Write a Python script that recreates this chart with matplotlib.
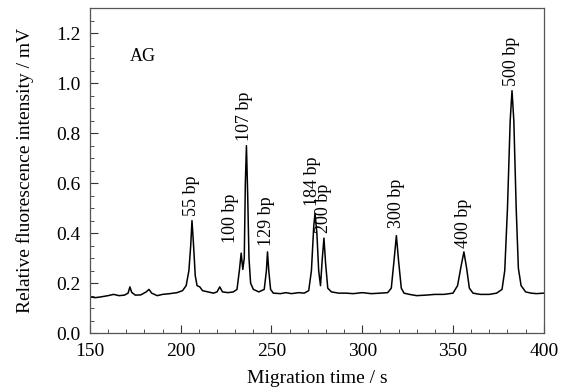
import matplotlib
matplotlib.use("Agg")
import matplotlib.pyplot as plt
from matplotlib.ticker import MultipleLocator

plt.rcParams['font.family'] = ['Liberation Serif', 'DejaVu Serif']

# electropherogram trace (time in s, intensity in mV)
time = [150, 153, 156, 160, 163, 166, 169, 171, 172, 173, 175, 178, 181, 182.5, 184,
        187, 190, 194, 198, 201, 203, 204.5, 205.5, 206.2, 207, 208, 209, 210.5, 212,
        215, 218, 220, 221.5, 223, 226, 229, 231, 232.3, 233.3, 234.2, 235, 235.6,
        236.2, 236.9, 237.6, 238.5, 240, 243, 246, 247.2, 247.8, 248.5, 249.5, 251,
        255, 258, 261, 265, 268, 270.5, 272, 273.3, 274, 275, 276, 277, 278, 278.9,
        279.8, 281, 283, 287, 291, 295, 300, 305, 310, 314, 316, 317.5, 318.8, 320,
        321.5, 323, 326, 330, 335, 340, 345, 350, 352.5, 354.5, 356, 357.5, 359, 361,
        365, 370, 374, 377, 378.5, 380, 381.5, 382.5, 383.5, 384.8, 386, 387.5, 390,
        393, 396, 400]
signal = [0.145, 0.142, 0.145, 0.150, 0.155, 0.150, 0.152, 0.160, 0.185, 0.163, 0.152,
          0.153, 0.165, 0.175, 0.160, 0.150, 0.155, 0.158, 0.162, 0.170, 0.190, 0.250,
          0.350, 0.450, 0.360, 0.230, 0.190, 0.185, 0.170, 0.165, 0.160, 0.165, 0.185,
          0.165, 0.162, 0.165, 0.175, 0.250, 0.320, 0.255, 0.300, 0.600, 0.750, 0.550,
          0.300, 0.200, 0.175, 0.165, 0.175, 0.250, 0.325, 0.250, 0.175, 0.160, 0.158,
          0.162, 0.158, 0.162, 0.160, 0.170, 0.250, 0.430, 0.480, 0.400, 0.250, 0.190,
          0.300, 0.380, 0.280, 0.180, 0.165, 0.160, 0.160, 0.158, 0.162, 0.158, 0.160,
          0.162, 0.180, 0.290, 0.390, 0.290, 0.180, 0.160, 0.155, 0.150, 0.152, 0.155,
          0.155, 0.160, 0.190, 0.270, 0.325, 0.260, 0.180, 0.160, 0.155, 0.155, 0.160,
          0.175, 0.250, 0.500, 0.850, 0.970, 0.850, 0.500, 0.260, 0.190, 0.165, 0.160,
          0.158, 0.160]

# fragment labels and where they sit
labels = ['55 bp', '100 bp', '107 bp', '129 bp', '184 bp', '200 bp',
          '300 bp', '400 bp', '500 bp']
label_t = [206, 227.6, 235.2, 247.5, 272.8, 278.4, 318.6, 355.7, 382.4]
label_y = [0.47, 0.36, 0.77, 0.35, 0.51, 0.40, 0.42, 0.34, 0.99]

fig = plt.figure(figsize=(5.73, 3.91), dpi=100)
ax = fig.add_axes([0.157, 0.148, 0.792, 0.831])

ax.plot(time, signal, color='black', lw=1.1)

for txt, t, y in zip(labels, label_t, label_y):
    ax.text(t, y, txt, rotation=90, ha='center', va='bottom', fontsize=13)

ax.text(172, 1.105, 'AG', ha='left', va='center', fontsize=13)

ax.set_xlim(150, 400)
ax.set_ylim(0, 1.3)
ax.xaxis.set_major_locator(MultipleLocator(50))
ax.xaxis.set_minor_locator(MultipleLocator(10))
ax.yaxis.set_major_locator(MultipleLocator(0.2))
ax.yaxis.set_minor_locator(MultipleLocator(0.05))
ax.yaxis.set_major_formatter(plt.FormatStrFormatter('%.1f'))

ax.tick_params(which='both', direction='in', top=False, right=False, labelsize=14,
               color='#333333', pad=7)
ax.tick_params(which='major', length=6)
ax.tick_params(which='minor', length=3)

for spine in ax.spines.values():
    spine.set_color('#555555')
    spine.set_linewidth(0.9)

ax.set_xlabel('Migration time / s', fontsize=14, labelpad=7)
ax.set_ylabel('Relative fluorescence intensity / mV', fontsize=14, labelpad=16)

fig.savefig('out.png', dpi=100)
